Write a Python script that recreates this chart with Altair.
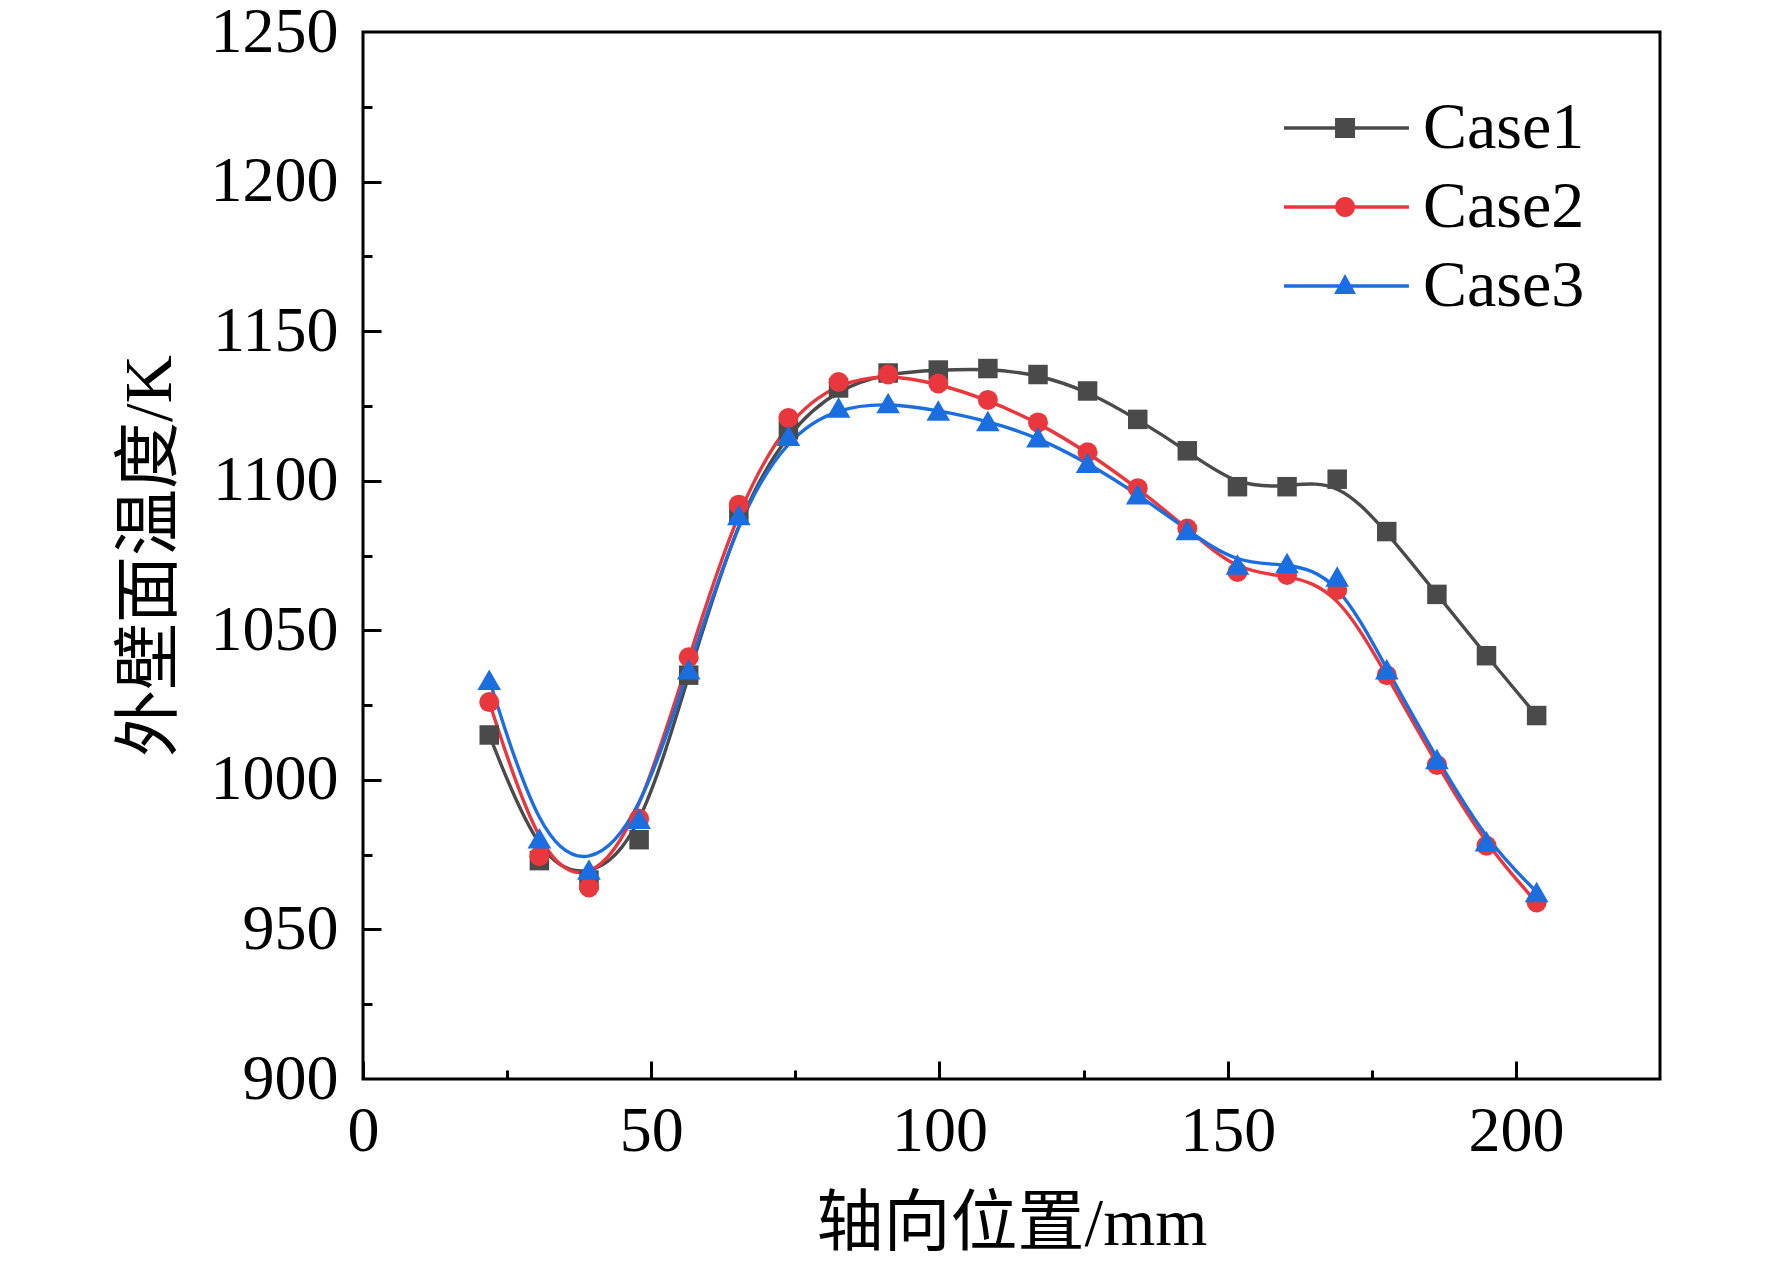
import math
import altair as alt
import pandas as pd

cases = ["Case1", "Case2", "Case3"]
colors = ["#4a4a4a", "#e8383d", "#1b6ee0"]

x_pos = [21.9, 30.6, 39.2, 47.9, 56.5, 65.2, 73.8, 82.5, 91.1, 99.8, 108.4,
         117.1, 125.7, 134.4, 143.0, 151.7, 160.3, 169.0, 177.6, 186.3, 194.9, 203.6]
case1 = [1015, 973, 966.5, 980, 1035, 1089, 1117, 1131, 1136, 1137, 1137.5,
         1135.5, 1130, 1120.5, 1110, 1098, 1098, 1100.5, 1083, 1062, 1041.5, 1021.5]
case2 = [1026, 974.5, 964, 987, 1041, 1092, 1121, 1133, 1135.5, 1132.5, 1127,
         1119.5, 1109.5, 1097.5, 1084, 1069.5, 1068.5, 1063.5, 1035, 1005, 978, 959]
case3 = [1033.5, 980.5, 970, 987, 1037, 1088.5, 1115, 1124.5, 1126, 1123.5, 1120,
         1114.5, 1106, 1095.5, 1083.5, 1072, 1072.5, 1068, 1037, 1007, 979.5, 962.5]

x_labels = [0, 50, 100, 150, 200]
x_minor = [25, 75, 125, 175]
y_labels = [900, 950, 1000, 1050, 1100, 1150, 1200, 1250]
y_major = [950, 1000, 1050, 1100, 1150, 1200]
y_minor = [925, 975, 1025, 1075, 1125, 1175, 1225]

rows = []
for name, vals in zip(cases, [case1, case2, case3]):
    for xv, yv in zip(x_pos, vals):
        rows.append({"x": xv, "y": yv, "case": name})
df = pd.DataFrame(rows)

W, H = 1297, 1047
FONT = "Liberation Serif, Noto Sans CJK SC"

# legend symbol paths (line + marker), unit = sqrt(size)/2 px
cx = 3.07
line_p = "M-1,-0.11L7.33,-0.11L7.33,0.11L-1,0.11Z"
sq_p = f"M{cx-0.667:.3f},-0.667L{cx+0.667:.3f},-0.667L{cx+0.667:.3f},0.667L{cx-0.667:.3f},0.667Z"
pts = []
for k in range(24):
    a = 2 * math.pi * k / 24
    pts.append(f"{cx + 0.667*math.cos(a):.3f},{0.667*math.sin(a):.3f}")
ci_p = "M" + "L".join(pts) + "Z"
tr_p = f"M{cx:.3f},-0.8L{cx+0.73:.3f},0.53L{cx-0.73:.3f},0.53Z"
paths = [line_p + sq_p, line_p + ci_p, line_p + tr_p]

xs = alt.Scale(domain=[0, 225], nice=False, zero=False)
ys = alt.Scale(domain=[900, 1250], nice=False, zero=False)
cscale = alt.Scale(domain=cases, range=colors)

ax_x_lab = alt.Axis(values=x_labels, orient="bottom", title="轴向位置/mm", ticks=False, tickSize=0,
                    domain=False, labelPadding=20, titlePadding=28, labelFlush=False,
                    labelOverlap=False, grid=False, format="d")
ax_y_lab = alt.Axis(values=y_labels, orient="left", title="外壁面温度/K", ticks=False, tickSize=0,
                    domain=False, labelPadding=25, titlePadding=26, labelOverlap=False,
                    grid=False, format="d")
ax_x_maj = alt.Axis(values=x_labels, orient="top", offset=-H, labels=False, domain=False,
                    tickSize=18, tickWidth=3, tickColor="black", title=None, grid=False)
ax_y_maj = alt.Axis(values=y_major, orient="right", offset=-W, labels=False, domain=False,
                    tickSize=18, tickWidth=3, tickColor="black", title=None, grid=False)
ax_x_min = alt.Axis(values=x_minor, orient="top", offset=-H, labels=False, domain=False,
                    tickSize=9, tickWidth=3, tickColor="black", title=None, grid=False)
ax_y_min = alt.Axis(values=y_minor, orient="right", offset=-W, labels=False, domain=False,
                    tickSize=9, tickWidth=3, tickColor="black", title=None, grid=False)

base = alt.Chart(df)

axes_for_lines = [(ax_x_lab, ax_y_lab), (None, None), (None, None)]
line_layers = []
for name, col, (axx, axy) in zip(cases, colors, axes_for_lines):
    line_layers.append(
        base.transform_filter(alt.datum.case == name).mark_line(
            interpolate="basis", strokeWidth=3.4, color=col).encode(
            x=alt.X("x:Q", scale=xs, axis=axx),
            y=alt.Y("y:Q", scale=ys, axis=axy),
        )
    )

sq = base.transform_filter(alt.datum.case == "Case1").mark_point(
    shape="square", filled=True, size=380, opacity=1, color=colors[0]).encode(
    x=alt.X("x:Q", scale=xs, axis=ax_x_maj),
    y=alt.Y("y:Q", scale=ys, axis=ax_y_maj),
)
ci = base.transform_filter(alt.datum.case == "Case2").mark_point(
    shape="circle", filled=True, size=400, opacity=1, color=colors[1]).encode(
    x=alt.X("x:Q", scale=xs, axis=ax_x_min),
    y=alt.Y("y:Q", scale=ys, axis=ax_y_min),
)
tr = base.transform_filter(alt.datum.case == "Case3").mark_point(
    shape="triangle-up", filled=True, size=560, opacity=1, color=colors[2]).encode(
    x=alt.X("x:Q", scale=xs, axis=None),
    y=alt.Y("y:Q", scale=ys, axis=None),
)

leg = dict(orient="none", legendX=903, legendY=63, title=None, symbolSize=900,
           symbolStrokeWidth=0, labelOffset=91, rowPadding=13, padding=0,
           labelLimit=400, labelFontSize=66, labelFont=FONT, labelColor="black",
           symbolOpacity=1)

legend_layer = base.mark_point(filled=True, opacity=0, size=900).encode(
    x=alt.X("x:Q", scale=xs, axis=None),
    y=alt.Y("y:Q", scale=ys, axis=None),
    color=alt.Color("case:N", scale=cscale, legend=alt.Legend(**leg)),
    shape=alt.Shape("case:N", scale=alt.Scale(domain=cases, range=paths),
                    legend=alt.Legend(**leg)),
)

chart = alt.layer(*line_layers, sq, ci, tr, legend_layer).resolve_axis(
    x="independent", y="independent"
).properties(
    width=W, height=H,
    autosize=alt.AutoSizeParams(type="none"),
    padding={"left": 355, "top": 24, "right": 104, "bottom": 185},
    background="white",
).configure_view(
    stroke="black", strokeWidth=3
).configure_axis(
    labelFont=FONT, titleFont=FONT, labelFontSize=64, titleFontSize=67,
    labelColor="black", titleColor="black", titleFontWeight="normal", grid=False
)

chart.save("out.html", embed_options={"renderer": "svg", "actions": False})
